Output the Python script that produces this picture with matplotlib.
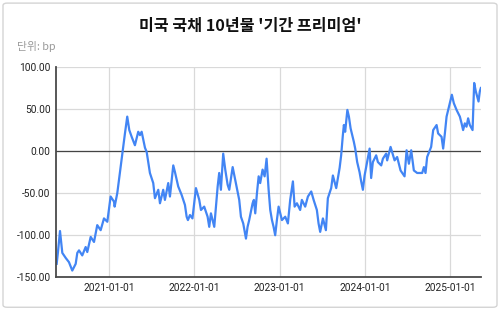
import matplotlib
matplotlib.use('Agg')
import matplotlib.pyplot as plt
import matplotlib.dates as mdates
from matplotlib.patches import FancyBboxPatch
from matplotlib.ticker import FormatStrFormatter
import pandas as pd

plt.rcParams['font.family'] = ['Roboto', 'Noto Sans CJK KR', 'DejaVu Sans']

title = "미국 국채 10년물 '기간 프리미엄'"
unit_label = "단위: bp"

# dates as decimal years, term premium in bp
years = [
    2020.383, 2020.398, 2020.422, 2020.449, 2020.489, 2020.527, 2020.566, 2020.606,
    2020.625, 2020.645, 2020.683, 2020.723, 2020.742, 2020.782, 2020.821, 2020.859,
    2020.899, 2020.938, 2020.977, 2021.016, 2021.055, 2021.063, 2021.094, 2021.134,
    2021.164, 2021.184, 2021.211, 2021.235, 2021.263, 2021.301, 2021.340, 2021.360,
    2021.380, 2021.419, 2021.439, 2021.477, 2021.516, 2021.536, 2021.575, 2021.595,
    2021.633, 2021.653, 2021.692, 2021.712, 2021.751, 2021.771, 2021.809, 2021.849,
    2021.888, 2021.908, 2021.923, 2021.947, 2021.976, 2022.017, 2022.056, 2022.076,
    2022.114, 2022.154, 2022.173, 2022.193, 2022.232, 2022.272, 2022.290, 2022.310,
    2022.337, 2022.361, 2022.389, 2022.408, 2022.448, 2022.486, 2022.525, 2022.545,
    2022.572, 2022.604, 2022.623, 2022.642, 2022.682, 2022.697, 2022.713, 2022.733,
    2022.753, 2022.771, 2022.799, 2022.823, 2022.846, 2022.870, 2022.889, 2022.909,
    2022.928, 2022.947, 2022.967, 2022.987, 2023.026, 2023.065, 2023.096, 2023.123,
    2023.155, 2023.175, 2023.202, 2023.240, 2023.260, 2023.299, 2023.331, 2023.370,
    2023.398, 2023.436, 2023.456, 2023.475, 2023.507, 2023.542, 2023.565, 2023.604,
    2023.624, 2023.663, 2023.683, 2023.703, 2023.721, 2023.741, 2023.753, 2023.768,
    2023.794, 2023.812, 2023.832, 2023.870, 2023.886, 2023.909, 2023.937, 2023.956,
    2023.976, 2023.996, 2024.026, 2024.055, 2024.073, 2024.093, 2024.132, 2024.152,
    2024.191, 2024.211, 2024.249, 2024.261, 2024.301, 2024.348, 2024.378, 2024.418,
    2024.465, 2024.489, 2024.516, 2024.543, 2024.574, 2024.613, 2024.672, 2024.692,
    2024.711, 2024.730, 2024.777, 2024.801, 2024.841, 2024.859, 2024.899, 2024.918,
    2024.938, 2024.958, 2024.977, 2024.996, 2025.020, 2025.043, 2025.075, 2025.094,
    2025.114, 2025.134, 2025.152, 2025.172, 2025.192, 2025.211, 2025.231, 2025.263,
    2025.282, 2025.301, 2025.333, 2025.348, 2025.360,
]
premium = [
    -134, -120, -95, -121, -127, -132, -142, -134,
    -121, -118, -124, -114, -120, -102, -108, -88,
    -94, -80, -84, -54, -60, -66, -50, -18,
    5, 21, 41, 25, 17, 7, 23, 19,
    23, 4, -1, -26, -38, -56, -46, -62,
    -46, -58, -38, -54, -17, -25, -42, -52,
    -64, -78, -82, -76, -80, -44, -58, -70,
    -66, -78, -90, -74, -90, -42, -26, -46,
    -3, -22, -40, -46, -19, -38, -58, -78,
    -86, -104, -90, -82, -62, -58, -74, -50,
    -30, -38, -22, -30, -9, -46, -70, -82,
    -90, -100, -82, -66, -82, -78, -86, -58,
    -36, -66, -62, -70, -58, -66, -54, -48,
    -58, -70, -86, -96, -80, -94, -56, -44,
    -29, -44, -32, -20, -5, 19, 31, 23,
    49, 41, 27, 11, 3, -13, -25, -36,
    -46, -29, -13, 3, -32, -13, -5, -13,
    -17, -9, -3, -11, 5, -11, -7, -23,
    -30, 1, -15, 1, -23, -26, -26, -19,
    -26, -7, 5, 25, 31, 21, 17, 3,
    21, 41, 49, 57, 67, 57, 49, 45,
    41, 33, 25, 33, 29, 39, 31, 25,
    81, 71, 59, 71, 75,
]

y_ticks = [-150, -100, -50, 0, 50, 100]


def to_date(y):
    return pd.Timestamp('2021-01-01') + pd.to_timedelta((y - 2021) * 365.25, 'D')


dates = [to_date(y) for y in years]

fig = plt.figure(figsize=(5, 3.11), dpi=100)

# card border, behind the axes
card = FancyBboxPatch((0.006, 0.012), 0.988, 0.978,
                      boxstyle='round,pad=0,rounding_size=0.008',
                      transform=fig.transFigure, facecolor='white',
                      edgecolor='#d4d4d4', linewidth=1.0, zorder=0)
fig.patches.append(card)

ax = fig.add_axes([0.112, 0.1084, 0.85, 0.6762])
ax.set_zorder(2)
ax.set_facecolor('none')

ax.plot(dates, premium, color='#4285f4', linewidth=1.6, solid_joinstyle='round')
ax.axhline(0, color='#444444', linewidth=0.9, zorder=1)

ax.set_ylim(-150, 100)
ax.set_xlim(to_date(2020.375), to_date(2025.362))
ax.set_yticks(y_ticks)
ax.yaxis.set_major_formatter(FormatStrFormatter('%.2f'))
ax.xaxis.set_major_locator(mdates.YearLocator())
ax.xaxis.set_major_formatter(mdates.DateFormatter('%Y-%m-%d'))

ax.grid(True, color='#d9d9d9', linewidth=0.9)
ax.set_axisbelow(True)
for s in ['top', 'right']:
    ax.spines[s].set_visible(False)
for s in ['left', 'bottom']:
    ax.spines[s].set_color('#4a4a4a')
    ax.spines[s].set_linewidth(1.3)
ax.tick_params(length=0, labelsize=7.3, labelcolor='#222222', pad=4)

fig.text(0.5, 0.916, title, ha='center', va='center', fontsize=11.6,
         fontweight='bold', family=['Noto Sans CJK KR', 'DejaVu Sans'], color='#111111')
fig.text(0.034, 0.85, unit_label, ha='left', va='center', fontsize=7.8,
         family=['Noto Sans CJK KR', 'DejaVu Sans'], color='#9a9a9a')

fig.savefig('out.png', dpi=100)
